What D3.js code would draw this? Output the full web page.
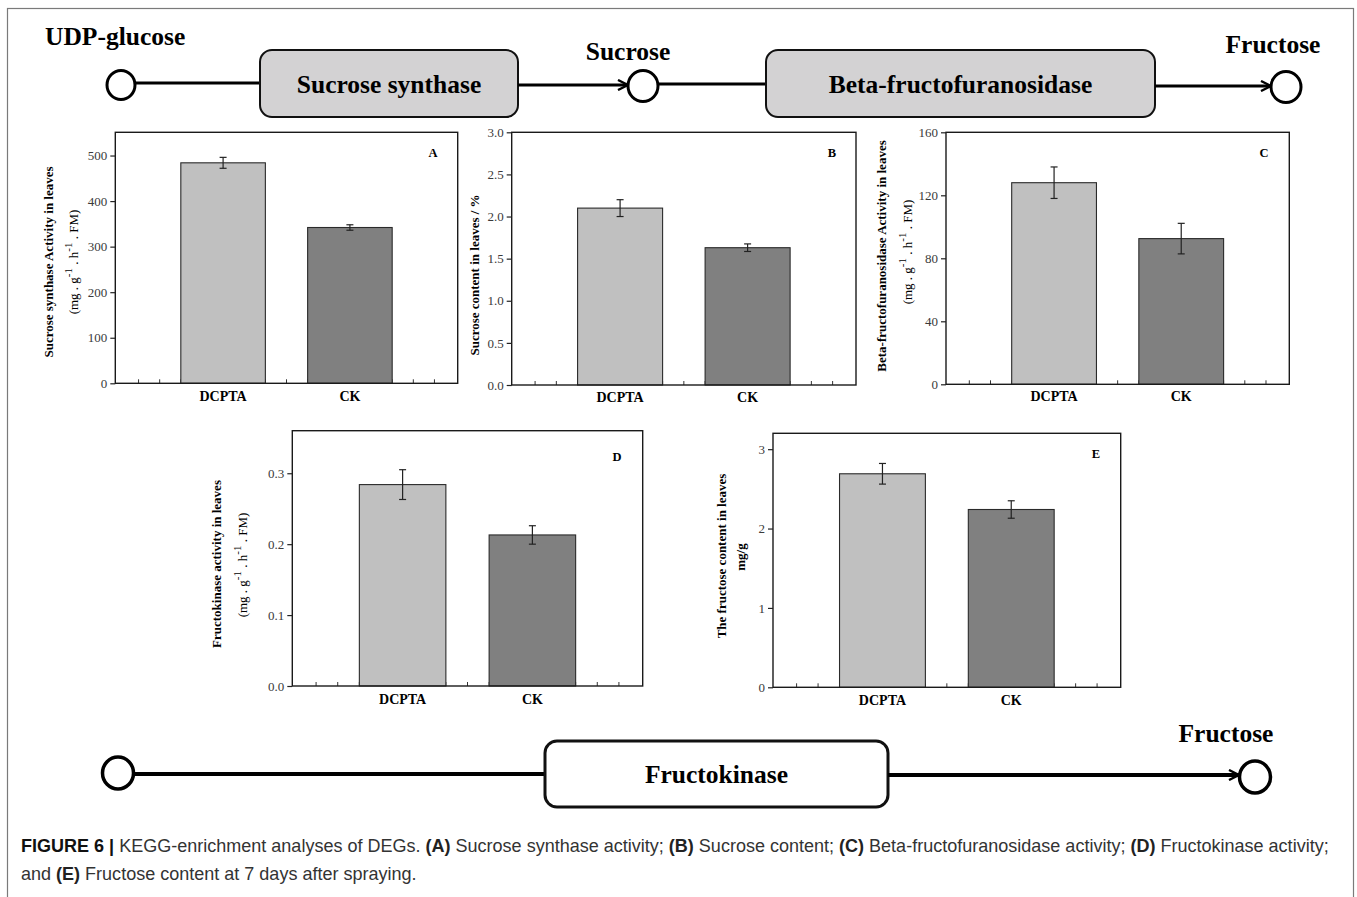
<!DOCTYPE html>
<html>
<head>
<meta charset="utf-8">
<script src="https://cdn.jsdelivr.net/npm/d3@7/dist/d3.min.js"></script>
<style>
  html, body { margin: 0; padding: 0; background: #fff; }
  svg { display: block; }
</style>
</head>
<body>
<svg id="fig" width="1357" height="897"></svg>
<script>
// Treatments shown in every panel
const categories = ["DCPTA", "CK"];

// (A) Sucrose synthase activity
const synthaseValues = [484, 342];
const synthaseErrors = [12, 6];
const synthaseTicks = [0, 100, 200, 300, 400, 500];

// (B) Sucrose content
const sucroseValues = [2.10, 1.63];
const sucroseErrors = [0.10, 0.045];
const sucroseTicks = [0.0, 0.5, 1.0, 1.5, 2.0, 2.5, 3.0];

// (C) Beta-fructofuranosidase activity
const invertaseValues = [128, 92.5];
const invertaseErrors = [10, 9.7];
const invertaseTicks = [0, 40, 80, 120, 160];

// (D) Fructokinase activity
const kinaseValues = [0.284, 0.213];
const kinaseErrors = [0.021, 0.013];
const kinaseTicks = [0.0, 0.1, 0.2, 0.3];

// (E) Fructose content
const fructoseValues = [2.69, 2.24];
const fructoseErrors = [0.13, 0.11];
const fructoseTicks = [0, 1, 2, 3];

const barFill = ["#c0c0c0", "#808080"];
const SERIF = "'Liberation Serif', 'Times New Roman', serif";
const SANS = "'Liberation Sans', Arial, Helvetica, sans-serif";

const svg = d3.select("#fig");

// outer figure border
svg.append("rect")
  .attr("x", 7.5).attr("y", 8.5)
  .attr("width", 1346).attr("height", 900)
  .attr("fill", "none").attr("stroke", "#7a7a7a").attr("stroke-width", 1.2);

// open chevron arrowhead for pathway arrows
const defs = svg.append("defs");
defs.append("marker")
  .attr("id", "chev")
  .attr("viewBox", "0 0 12 12")
  .attr("refX", 11).attr("refY", 6)
  .attr("markerWidth", 12).attr("markerHeight", 12)
  .attr("markerUnits", "userSpaceOnUse")
  .attr("orient", "auto")
  .append("path")
  .attr("d", "M1,1 L11,6 L1,11")
  .attr("fill", "none").attr("stroke", "#000").attr("stroke-width", 2.4)
  .attr("stroke-linejoin", "miter");

// ---------- pathway drawing helpers ----------
function node(cx, cy, r, sw) {
  svg.append("ellipse").attr("cx", cx).attr("cy", cy).attr("rx", r).attr("ry", r + 0.5)
    .attr("fill", "#fff").attr("stroke", "#000").attr("stroke-width", sw);
}
function link(x1, y1, x2, y2, sw, arrow) {
  const l = svg.append("line").attr("x1", x1).attr("y1", y1).attr("x2", x2).attr("y2", y2)
    .attr("stroke", "#000").attr("stroke-width", sw);
  if (arrow) l.attr("marker-end", "url(#chev)");
}
function enzyme(x, y, w, h, fill, sw, label, baseline) {
  svg.append("rect").attr("x", x).attr("y", y).attr("width", w).attr("height", h)
    .attr("rx", 12).attr("ry", 12)
    .attr("fill", fill).attr("stroke", "#111").attr("stroke-width", sw);
  svg.append("text").attr("x", x + w / 2).attr("y", baseline)
    .attr("text-anchor", "middle")
    .style("font-family", SERIF).style("font-weight", "bold").style("font-size", "25.5px")
    .text(label);
}
function metabolite(x, y, label, anchor) {
  svg.append("text").attr("x", x).attr("y", y).attr("text-anchor", anchor || "middle")
    .style("font-family", SERIF).style("font-weight", "bold").style("font-size", "25.5px")
    .text(label);
}

// top pathway: UDP-glucose -> Sucrose -> Fructose
metabolite(45, 45, "UDP-glucose", "start");
node(121, 85, 14, 3);
link(135, 83, 260, 83, 3, false);
enzyme(260, 50, 258, 67, "#d3d2d3", 2, "Sucrose synthase", 93);
link(518, 85, 628, 85, 3, true);
metabolite(628, 60, "Sucrose");
node(643, 86, 15, 3);
link(658, 84, 766, 84, 3, false);
enzyme(766, 50, 389, 67, "#d3d2d3", 2, "Beta-fructofuranosidase", 93);
link(1155, 86, 1271, 86, 3, true);
metabolite(1273, 53, "Fructose");
node(1286, 87, 15, 3);

// bottom pathway: Fructokinase
node(118, 773, 15.5, 3.5);
link(134, 774, 545, 774, 4, false);
enzyme(545, 741, 343, 66, "#fff", 3, "Fructokinase", 783);
link(888, 775, 1239, 775, 4, true);
metabolite(1226, 742, "Fructose");
node(1255, 777, 15.5, 3.5);

// ---------- bar panels ----------
function panel(cfg) {
  const g = svg.append("g");
  const { left, top, right, bottom } = cfg;
  const x = d3.scaleLinear().domain([0.15, 2.85]).range([left, right]);
  const y = d3.scaleLinear().domain([0, cfg.yMax]).range([bottom, top]);
  const unit = x(1) - x(0);
  const bw = unit * 2 / 3;

  // small minor ticks along the category axis
  const minor = d3.range(1, 17).map(k => k / 6).filter(v => v > 0.2 && v < 2.8);
  g.selectAll("line.minor").data(minor).join("line")
    .attr("x1", d => x(d)).attr("x2", d => x(d))
    .attr("y1", bottom).attr("y2", bottom - 4)
    .attr("stroke", "#333").attr("stroke-width", 1);

  // bars
  g.selectAll("rect.bar").data(cfg.values).join("rect")
    .attr("x", (d, i) => x(i + 1) - bw / 2)
    .attr("y", d => y(d))
    .attr("width", bw)
    .attr("height", d => bottom - y(d))
    .attr("fill", (d, i) => barFill[i])
    .attr("stroke", "#2a2a2a").attr("stroke-width", 1.1);

  // error bars
  const eb = g.selectAll("g.err").data(cfg.values).join("g");
  eb.append("line")
    .attr("x1", (d, i) => x(i + 1)).attr("x2", (d, i) => x(i + 1))
    .attr("y1", (d, i) => y(d + cfg.errors[i])).attr("y2", (d, i) => y(d - cfg.errors[i]))
    .attr("stroke", "#222").attr("stroke-width", 1.2);
  [1, -1].forEach(s => {
    eb.append("line")
      .attr("x1", (d, i) => x(i + 1) - 3.5).attr("x2", (d, i) => x(i + 1) + 3.5)
      .attr("y1", (d, i) => y(d + s * cfg.errors[i])).attr("y2", (d, i) => y(d + s * cfg.errors[i]))
      .attr("stroke", "#222").attr("stroke-width", 1.2);
  });

  // plot frame
  g.append("rect").attr("x", left).attr("y", top)
    .attr("width", right - left).attr("height", bottom - top)
    .attr("fill", "none").attr("stroke", "#1a1a1a").attr("stroke-width", 1.4);

  // y axis
  const ax = g.append("g").attr("transform", `translate(${left},0)`)
    .call(d3.axisLeft(y).tickValues(cfg.ticks).tickSize(5).tickPadding(3)
      .tickFormat(d3.format(cfg.fmt)));
  ax.select(".domain").remove();
  ax.selectAll(".tick line").attr("stroke", "#222").attr("stroke-width", 1.2);
  ax.selectAll(".tick text")
    .style("font-family", SERIF).style("font-size", "13px").attr("fill", "#3a3a3a");

  // category labels
  g.selectAll("text.cat").data(categories).join("text")
    .attr("x", (d, i) => x(i + 1)).attr("y", cfg.catY)
    .attr("text-anchor", "middle")
    .style("font-family", SERIF).style("font-weight", "bold").style("font-size", "14px")
    .text(d => d);

  // panel letter
  g.append("text").attr("x", cfg.letterX).attr("y", cfg.letterY)
    .attr("text-anchor", "middle")
    .style("font-family", SERIF).style("font-weight", "bold").style("font-size", "12.5px")
    .text(cfg.letter);

  // y titles (rotated)
  cfg.titles.forEach(t => {
    const tx = g.append("text")
      .attr("transform", `translate(${t.x},${t.cy}) rotate(-90)`)
      .attr("text-anchor", "middle")
      .style("font-family", SERIF).style("font-size", "13px")
      .style("font-weight", t.bold ? "bold" : "normal");
    if (t.units) {
      tx.append("tspan").text("(mg . g");
      tx.append("tspan").attr("dy", -6).style("font-size", "11px").text("-1");
      tx.append("tspan").attr("dy", 6).text(" . h");
      tx.append("tspan").attr("dy", -6).style("font-size", "11px").text("-1");
      tx.append("tspan").attr("dy", 6).text(" . FM)");
    } else {
      tx.text(t.text);
    }
  });
}

panel({
  left: 115.3, top: 132.3, right: 457.7, bottom: 383.3, yMax: 551,
  values: synthaseValues, errors: synthaseErrors, ticks: synthaseTicks, fmt: "d",
  catY: 401, letter: "A", letterX: 433, letterY: 157,
  titles: [
    { x: 53, cy: 262, bold: true, text: "Sucrose synthase Activity in leaves" },
    { x: 78, cy: 262, bold: false, units: true }
  ]
});
panel({
  left: 511.7, top: 132.3, right: 856, bottom: 385, yMax: 3.0,
  values: sucroseValues, errors: sucroseErrors, ticks: sucroseTicks, fmt: ".1f",
  catY: 402, letter: "B", letterX: 832, letterY: 157,
  titles: [
    { x: 479, cy: 275, bold: true, text: "Sucrose content in leaves / %" }
  ]
});
panel({
  left: 946, top: 132.3, right: 1289.3, bottom: 384.3, yMax: 160,
  values: invertaseValues, errors: invertaseErrors, ticks: invertaseTicks, fmt: "d",
  catY: 401, letter: "C", letterX: 1264, letterY: 157,
  titles: [
    { x: 886, cy: 256, bold: true, text: "Beta-fructofuranosidase Activity in leaves" },
    { x: 912, cy: 252, bold: false, units: true }
  ]
});
panel({
  left: 292.3, top: 430.7, right: 642.7, bottom: 686, yMax: 0.36,
  values: kinaseValues, errors: kinaseErrors, ticks: kinaseTicks, fmt: ".1f",
  catY: 704, letter: "D", letterX: 617, letterY: 461,
  titles: [
    { x: 221, cy: 564, bold: true, text: "Fructokinase activity in leaves" },
    { x: 247, cy: 565, bold: false, units: true }
  ]
});
panel({
  left: 773, top: 433.3, right: 1120.7, bottom: 687.3, yMax: 3.2,
  values: fructoseValues, errors: fructoseErrors, ticks: fructoseTicks, fmt: "d",
  catY: 705, letter: "E", letterX: 1096, letterY: 458,
  titles: [
    { x: 726, cy: 556, bold: true, text: "The fructose content in leaves" },
    { x: 745, cy: 557, bold: true, text: "mg/g" }
  ]
});

// ---------- caption ----------
const captionLines = [
  [["FIGURE 6 | ", true, "#111"], ["KEGG-enrichment analyses of DEGs. ", false],
   ["(A)", true], [" Sucrose synthase activity; ", false], ["(B)", true], [" Sucrose content; ", false],
   ["(C)", true], [" Beta-fructofuranosidase activity; ", false], ["(D)", true], [" Fructokinase activity;", false]],
  [["and ", false], ["(E)", true], [" Fructose content at 7 days after spraying.", false]]
];
const capTexts = captionLines.map((line, li) => {
  const t = svg.append("text").attr("x", 21).attr("y", 852 + li * 28)
    .style("font-family", SANS).style("font-size", "16px").attr("fill", "#333");
  line.forEach(([s, b, c]) => {
    t.append("tspan").text(s).style("font-weight", b ? "bold" : "normal")
      .attr("fill", c || (b ? "#222" : "#333"));
  });
  return t;
});
// size the caption so the first line spans the figure width
const w0 = capTexts[0].node().getComputedTextLength();
const fs = 16 * 1308 / w0;
capTexts.forEach(t => t.style("font-size", fs.toFixed(2) + "px"));
</script>
</body>
</html>
